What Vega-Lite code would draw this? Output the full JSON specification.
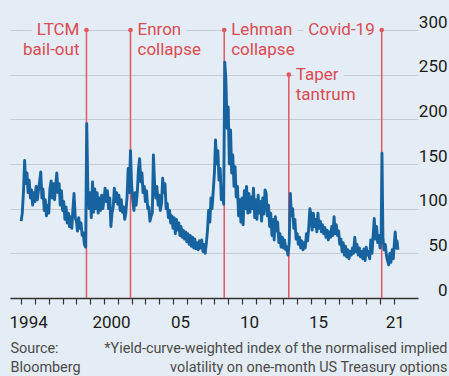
{
  "$schema": "https://vega.github.io/schema/vega-lite/v6.json",
  "width": 408,
  "height": 268,
  "autosize": {"type": "none"},
  "padding": {"left": 10, "top": 30, "right": 31, "bottom": 78},
  "background": "#e4edf5",
  "config": {"view": {"stroke": null}, "font": "Roboto"},
  "datasets": {
    "move": [
      {"t":1994.00,"v":86},{"t":1994.08,"v":95},{"t":1994.17,"v":120},{"t":1994.25,"v":154},{"t":1994.33,"v":128},{"t":1994.42,"v":140},{"t":1994.50,"v":118},{"t":1994.58,"v":132},{"t":1994.67,"v":112},{"t":1994.75,"v":121},{"t":1994.83,"v":104},{"t":1994.92,"v":118},
      {"t":1995.00,"v":108},{"t":1995.08,"v":125},{"t":1995.17,"v":110},{"t":1995.25,"v":120},{"t":1995.33,"v":130},{"t":1995.42,"v":141},{"t":1995.50,"v":112},{"t":1995.58,"v":122},{"t":1995.67,"v":98},{"t":1995.75,"v":110},{"t":1995.83,"v":92},{"t":1995.92,"v":104},
      {"t":1996.00,"v":95},{"t":1996.08,"v":122},{"t":1996.17,"v":131},{"t":1996.25,"v":112},{"t":1996.33,"v":128},{"t":1996.42,"v":110},{"t":1996.50,"v":126},{"t":1996.58,"v":140},{"t":1996.67,"v":118},{"t":1996.75,"v":128},{"t":1996.83,"v":104},{"t":1996.92,"v":120},
      {"t":1997.00,"v":98},{"t":1997.08,"v":108},{"t":1997.17,"v":88},{"t":1997.25,"v":102},{"t":1997.33,"v":84},{"t":1997.42,"v":95},{"t":1997.50,"v":80},{"t":1997.58,"v":91},{"t":1997.67,"v":78},{"t":1997.75,"v":100},{"t":1997.83,"v":117},{"t":1997.92,"v":90},
      {"t":1998.00,"v":86},{"t":1998.08,"v":75},{"t":1998.17,"v":90},{"t":1998.25,"v":78},{"t":1998.33,"v":84},{"t":1998.42,"v":70},{"t":1998.50,"v":73},{"t":1998.58,"v":60},{"t":1998.67,"v":57},{"t":1998.75,"v":195},{"t":1998.83,"v":122},{"t":1998.92,"v":100},
      {"t":1999.00,"v":118},{"t":1999.08,"v":90},{"t":1999.17,"v":130},{"t":1999.25,"v":96},{"t":1999.33,"v":122},{"t":1999.42,"v":100},{"t":1999.50,"v":118},{"t":1999.58,"v":95},{"t":1999.67,"v":112},{"t":1999.75,"v":98},{"t":1999.83,"v":115},{"t":1999.92,"v":100},
      {"t":2000.00,"v":110},{"t":2000.08,"v":123},{"t":2000.17,"v":108},{"t":2000.25,"v":120},{"t":2000.33,"v":100},{"t":2000.42,"v":112},{"t":2000.50,"v":80},{"t":2000.58,"v":95},{"t":2000.67,"v":102},{"t":2000.75,"v":123},{"t":2000.83,"v":108},{"t":2000.92,"v":118},
      {"t":2001.00,"v":105},{"t":2001.08,"v":115},{"t":2001.17,"v":98},{"t":2001.25,"v":110},{"t":2001.33,"v":96},{"t":2001.42,"v":102},{"t":2001.50,"v":88},{"t":2001.58,"v":95},{"t":2001.67,"v":113},{"t":2001.75,"v":145},{"t":2001.83,"v":118},{"t":2001.92,"v":165},
      {"t":2002.00,"v":127},{"t":2002.08,"v":110},{"t":2002.17,"v":98},{"t":2002.25,"v":118},{"t":2002.33,"v":104},{"t":2002.42,"v":120},{"t":2002.50,"v":145},{"t":2002.58,"v":156},{"t":2002.67,"v":130},{"t":2002.75,"v":140},{"t":2002.83,"v":118},{"t":2002.92,"v":125},
      {"t":2003.00,"v":108},{"t":2003.08,"v":120},{"t":2003.17,"v":100},{"t":2003.25,"v":102},{"t":2003.33,"v":86},{"t":2003.42,"v":92},{"t":2003.50,"v":95},{"t":2003.58,"v":160},{"t":2003.67,"v":127},{"t":2003.75,"v":112},{"t":2003.83,"v":125},{"t":2003.92,"v":104},
      {"t":2004.00,"v":115},{"t":2004.08,"v":98},{"t":2004.17,"v":106},{"t":2004.25,"v":134},{"t":2004.33,"v":118},{"t":2004.42,"v":128},{"t":2004.50,"v":100},{"t":2004.58,"v":106},{"t":2004.67,"v":90},{"t":2004.75,"v":98},{"t":2004.83,"v":84},{"t":2004.92,"v":92},
      {"t":2005.00,"v":78},{"t":2005.08,"v":90},{"t":2005.17,"v":72},{"t":2005.25,"v":88},{"t":2005.33,"v":76},{"t":2005.42,"v":84},{"t":2005.50,"v":70},{"t":2005.58,"v":80},{"t":2005.67,"v":68},{"t":2005.75,"v":76},{"t":2005.83,"v":66},{"t":2005.92,"v":74},
      {"t":2006.00,"v":63},{"t":2006.08,"v":72},{"t":2006.17,"v":60},{"t":2006.25,"v":70},{"t":2006.33,"v":58},{"t":2006.42,"v":68},{"t":2006.50,"v":56},{"t":2006.58,"v":66},{"t":2006.67,"v":55},{"t":2006.75,"v":62},{"t":2006.83,"v":54},{"t":2006.92,"v":64},
      {"t":2007.00,"v":56},{"t":2007.08,"v":65},{"t":2007.17,"v":52},{"t":2007.25,"v":60},{"t":2007.33,"v":50},{"t":2007.42,"v":62},{"t":2007.50,"v":76},{"t":2007.58,"v":98},{"t":2007.67,"v":85},{"t":2007.75,"v":112},{"t":2007.83,"v":100},{"t":2007.92,"v":121},
      {"t":2008.00,"v":140},{"t":2008.08,"v":177},{"t":2008.17,"v":150},{"t":2008.25,"v":165},{"t":2008.33,"v":132},{"t":2008.42,"v":145},{"t":2008.50,"v":110},{"t":2008.58,"v":120},{"t":2008.67,"v":105},{"t":2008.75,"v":264},{"t":2008.83,"v":245},{"t":2008.92,"v":190},
      {"t":2009.00,"v":214},{"t":2009.08,"v":150},{"t":2009.17,"v":188},{"t":2009.25,"v":140},{"t":2009.33,"v":160},{"t":2009.42,"v":125},{"t":2009.50,"v":147},{"t":2009.58,"v":113},{"t":2009.67,"v":125},{"t":2009.75,"v":92},{"t":2009.83,"v":110},{"t":2009.92,"v":85},
      {"t":2010.00,"v":112},{"t":2010.08,"v":82},{"t":2010.17,"v":120},{"t":2010.25,"v":100},{"t":2010.33,"v":125},{"t":2010.42,"v":95},{"t":2010.50,"v":117},{"t":2010.58,"v":96},{"t":2010.67,"v":113},{"t":2010.75,"v":100},{"t":2010.83,"v":123},{"t":2010.92,"v":90},
      {"t":2011.00,"v":110},{"t":2011.08,"v":88},{"t":2011.17,"v":115},{"t":2011.25,"v":95},{"t":2011.33,"v":108},{"t":2011.42,"v":86},{"t":2011.50,"v":112},{"t":2011.58,"v":94},{"t":2011.67,"v":121},{"t":2011.75,"v":117},{"t":2011.83,"v":92},{"t":2011.92,"v":104},
      {"t":2012.00,"v":80},{"t":2012.08,"v":95},{"t":2012.17,"v":70},{"t":2012.25,"v":88},{"t":2012.33,"v":65},{"t":2012.42,"v":91},{"t":2012.50,"v":75},{"t":2012.58,"v":85},{"t":2012.67,"v":62},{"t":2012.75,"v":72},{"t":2012.83,"v":57},{"t":2012.92,"v":68},
      {"t":2013.00,"v":56},{"t":2013.08,"v":65},{"t":2013.17,"v":54},{"t":2013.25,"v":57},{"t":2013.33,"v":48},{"t":2013.42,"v":62},{"t":2013.50,"v":117},{"t":2013.58,"v":92},{"t":2013.67,"v":100},{"t":2013.75,"v":78},{"t":2013.83,"v":88},{"t":2013.92,"v":66},
      {"t":2014.00,"v":72},{"t":2014.08,"v":60},{"t":2014.17,"v":68},{"t":2014.25,"v":56},{"t":2014.33,"v":64},{"t":2014.42,"v":54},{"t":2014.50,"v":62},{"t":2014.58,"v":56},{"t":2014.67,"v":72},{"t":2014.75,"v":64},{"t":2014.83,"v":78},{"t":2014.92,"v":100},
      {"t":2015.00,"v":92},{"t":2015.08,"v":76},{"t":2015.17,"v":95},{"t":2015.25,"v":80},{"t":2015.33,"v":88},{"t":2015.42,"v":74},{"t":2015.50,"v":95},{"t":2015.58,"v":78},{"t":2015.67,"v":86},{"t":2015.75,"v":74},{"t":2015.83,"v":82},{"t":2015.92,"v":72},
      {"t":2016.00,"v":79},{"t":2016.08,"v":68},{"t":2016.17,"v":76},{"t":2016.25,"v":65},{"t":2016.33,"v":74},{"t":2016.42,"v":68},{"t":2016.50,"v":80},{"t":2016.58,"v":70},{"t":2016.67,"v":91},{"t":2016.75,"v":72},{"t":2016.83,"v":82},{"t":2016.92,"v":70},
      {"t":2017.00,"v":75},{"t":2017.08,"v":60},{"t":2017.17,"v":66},{"t":2017.25,"v":52},{"t":2017.33,"v":62},{"t":2017.42,"v":48},{"t":2017.50,"v":58},{"t":2017.58,"v":46},{"t":2017.67,"v":54},{"t":2017.75,"v":44},{"t":2017.83,"v":52},{"t":2017.92,"v":48},
      {"t":2018.00,"v":56},{"t":2018.08,"v":50},{"t":2018.17,"v":68},{"t":2018.25,"v":52},{"t":2018.33,"v":60},{"t":2018.42,"v":48},{"t":2018.50,"v":56},{"t":2018.58,"v":46},{"t":2018.67,"v":52},{"t":2018.75,"v":44},{"t":2018.83,"v":55},{"t":2018.92,"v":42},
      {"t":2019.00,"v":57},{"t":2019.08,"v":48},{"t":2019.17,"v":52},{"t":2019.25,"v":44},{"t":2019.33,"v":65},{"t":2019.42,"v":50},{"t":2019.50,"v":70},{"t":2019.58,"v":89},{"t":2019.67,"v":66},{"t":2019.75,"v":80},{"t":2019.83,"v":62},{"t":2019.92,"v":70},
      {"t":2020.00,"v":56},{"t":2020.08,"v":72},{"t":2020.14,"v":162},{"t":2020.21,"v":68},{"t":2020.29,"v":54},{"t":2020.38,"v":60},{"t":2020.46,"v":48},{"t":2020.54,"v":42},{"t":2020.63,"v":37},{"t":2020.71,"v":50},{"t":2020.79,"v":40},{"t":2020.88,"v":54},{"t":2020.96,"v":44},
      {"t":2021.04,"v":62},{"t":2021.10,"v":74},{"t":2021.17,"v":56},{"t":2021.23,"v":64},{"t":2021.30,"v":54}
    ],
    "events": [
      {"event":"LTCM","l1":"LTCM","l2":"bail-out","t":1998.73,"v":300},
      {"event":"Enron","l1":"Enron","l2":"collapse","t":2001.92,"v":300},
      {"event":"Lehman","l1":"Lehman","l2":"collapse","t":2008.71,"v":300},
      {"event":"Taper","l1":"Taper","l2":"tantrum","t":2013.39,"v":250},
      {"event":"Covid","l1":"Covid-19","l2":"","t":2020.12,"v":300}
    ]
  },
  "encoding": {
    "x": {
      "field": "t", "type": "quantitative",
      "scale": {"domain": [1993.19, 2022.75], "nice": false, "zero": false},
      "axis": {
        "values": [1994,1995,1996,1997,1998,1999,2000,2001,2002,2003,2004,2005,2006,2007,2008,2009,2010,2011,2012,2013,2014,2015,2016,2017,2018,2019,2020,2021],
        "format": "d",
        "labelExpr": "indexof([1994,2000],datum.value) >= 0 ? datum.label : (indexof([2005,2010,2015,2021],datum.value) >= 0 ? substring(datum.label,2,4) : '')",
        "labelOverlap": false, "labelBound": false, "labelFlush": false,
        "grid": false,
        "domainColor": "#333333", "domainWidth": 1.5,
        "tickColor": "#333333", "tickSize": 6, "tickWidth": 1.2,
        "labelFontSize": 17, "labelColor": "#1a1a1a", "labelBaseline": "alphabetic", "labelPadding": 23,
        "labelOffset": {"condition": {"test": "datum.value == 2021", "value": 1}, "value": 7},
        "title": ["*Yield-curve-weighted index of the normalised implied", "volatility on one-month US Treasury options"],
        "titleX": 437, "titleY": 54, "titleAlign": "right", "titleBaseline": "alphabetic",
        "titleFontSize": 14.4, "titleFontWeight": "normal", "titleColor": "#4a4a4a", "titleLineHeight": 19
      }
    },
    "y": {
      "field": "v", "type": "quantitative",
      "scale": {"domain": [0, 300], "nice": false},
      "axis": {
        "orient": "right", "values": [0,50,100,150,200,250,300],
        "grid": true, "gridColor": "#c4ccd4", "gridWidth": 1,
        "domain": false, "ticks": false, "tickSize": 0,
        "labelAlign": "right", "labelBaseline": "alphabetic", "labelOffset": -3, "labelPadding": 29,
        "labelFontSize": 17, "labelColor": "#1a1a1a",
        "title": ["Source:", "Bloomberg"],
        "titleX": -408, "titleY": 322, "titleAngle": 0, "titleAlign": "left", "titleBaseline": "alphabetic",
        "titleFontSize": 14.4, "titleFontWeight": "normal", "titleColor": "#4a4a4a", "titleLineHeight": 19
      }
    }
  },
  "layer": [
    {
      "data": {"name": "events"},
      "transform": [{"filter": {"field": "event", "oneOf": ["LTCM", "Covid"]}}],
      "mark": {"type": "text", "align": "right", "baseline": "middle", "dx": -7, "fontSize": 17, "fill": "#e4edf5", "stroke": "#e4edf5", "strokeWidth": 12, "strokeJoin": "round"},
      "encoding": {"text": {"field": "l1"}}
    },
    {
      "data": {"name": "events"},
      "transform": [{"filter": {"field": "event", "oneOf": ["Enron", "Lehman", "Taper"]}}],
      "mark": {"type": "text", "align": "left", "baseline": "middle", "dx": 7, "fontSize": 17, "fill": "#e4edf5", "stroke": "#e4edf5", "strokeWidth": 12, "strokeJoin": "round"},
      "encoding": {"text": {"field": "l1"}}
    },
    {
      "data": {"name": "events"},
      "mark": {"type": "rule", "color": "#e3575f", "strokeWidth": 1.5},
      "encoding": {"y2": {"datum": 0}}
    },
    {
      "data": {"name": "move"},
      "mark": {"type": "line", "color": "#17639f", "strokeWidth": 2.9, "strokeJoin": "round"}
    },
    {
      "data": {"name": "events"},
      "mark": {"type": "point", "filled": true, "color": "#e3575f", "size": 22, "opacity": 1}
    },
    {
      "data": {"name": "events"},
      "transform": [{"filter": {"field": "event", "oneOf": ["LTCM", "Covid"]}}],
      "mark": {"type": "text", "align": "right", "baseline": "middle", "dx": -7, "fontSize": 17, "color": "#dc4a52"},
      "encoding": {"text": {"field": "l1"}}
    },
    {
      "data": {"name": "events"},
      "transform": [{"filter": {"field": "event", "oneOf": ["LTCM", "Covid"]}}],
      "mark": {"type": "text", "align": "right", "baseline": "middle", "dx": -7, "dy": 20, "fontSize": 17, "color": "#dc4a52"},
      "encoding": {"text": {"field": "l2"}}
    },
    {
      "data": {"name": "events"},
      "transform": [{"filter": {"field": "event", "oneOf": ["Enron", "Lehman", "Taper"]}}],
      "mark": {"type": "text", "align": "left", "baseline": "middle", "dx": 7, "fontSize": 17, "color": "#dc4a52"},
      "encoding": {"text": {"field": "l1"}}
    },
    {
      "data": {"name": "events"},
      "transform": [{"filter": {"field": "event", "oneOf": ["Enron", "Lehman", "Taper"]}}],
      "mark": {"type": "text", "align": "left", "baseline": "middle", "dx": 7, "dy": 20, "fontSize": 17, "color": "#dc4a52"},
      "encoding": {"text": {"field": "l2"}}
    }
  ]
}
